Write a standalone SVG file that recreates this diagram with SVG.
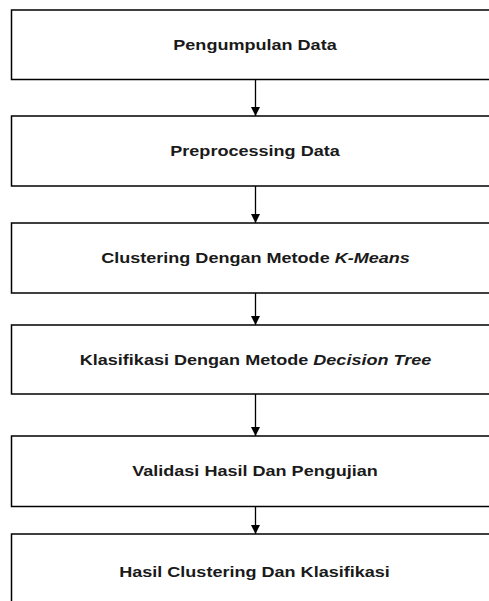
<svg xmlns="http://www.w3.org/2000/svg" width="489" height="601" viewBox="0 0 489 601">
<style>
.box{fill:#fff;stroke:#000;stroke-width:1.5}
.lbl{font-family:"Liberation Sans",Arial,sans-serif;font-size:14px;font-weight:bold;fill:#1a1a1a;text-anchor:middle}
.it{font-style:italic}
.edge{stroke:#000;stroke-width:1.3;fill:none}
</style>
<defs>
<marker id="ah" viewBox="0 0 10 10" refX="10" refY="5" markerWidth="10" markerHeight="9" markerUnits="userSpaceOnUse" orient="auto">
<path d="M0,0 L10,5 L0,10 Z" fill="#000"/>
</marker>
</defs>
<rect width="489" height="601" fill="#fff"/>
<g id="n1"><rect class="box" x="11.5" y="10" width="487" height="69.5"/>
<text class="lbl" transform="translate(255,49.5) scale(1.29,1)" x="0" y="0">Pengumpulan Data</text></g>
<g id="n2"><rect class="box" x="11.5" y="116" width="487" height="70"/>
<text class="lbl" transform="translate(255,156) scale(1.29,1)" x="0" y="0">Preprocessing Data</text></g>
<g id="n3"><rect class="box" x="11.5" y="223" width="487" height="70"/>
<text class="lbl" transform="translate(255.5,263) scale(1.29,1)" x="0" y="0">Clustering Dengan Metode <tspan class="it">K-Means</tspan></text></g>
<g id="n4"><rect class="box" x="11.5" y="325" width="487" height="69"/>
<text class="lbl" transform="translate(255.5,364.8) scale(1.29,1)" x="0" y="0">Klasifikasi Dengan Metode <tspan class="it">Decision Tree</tspan></text></g>
<g id="n5"><rect class="box" x="11.5" y="436" width="487" height="70.5"/>
<text class="lbl" transform="translate(255,475.5) scale(1.29,1)" x="0" y="0">Validasi Hasil Dan Pengujian</text></g>
<g id="n6"><rect class="box" x="11.5" y="534" width="487" height="80"/>
<text class="lbl" transform="translate(254.5,577) scale(1.29,1)" x="0" y="0">Hasil Clustering Dan Klasifikasi</text></g>
<g id="connectors">
<line class="edge" x1="255.5" y1="79.5" x2="255.5" y2="116" marker-end="url(#ah)"/>
<line class="edge" x1="255.5" y1="186" x2="255.5" y2="223" marker-end="url(#ah)"/>
<line class="edge" x1="255.5" y1="293" x2="255.5" y2="325" marker-end="url(#ah)"/>
<line class="edge" x1="255.5" y1="394" x2="255.5" y2="436" marker-end="url(#ah)"/>
<line class="edge" x1="255.5" y1="506.5" x2="255.5" y2="534" marker-end="url(#ah)"/>
</g>
</svg>
